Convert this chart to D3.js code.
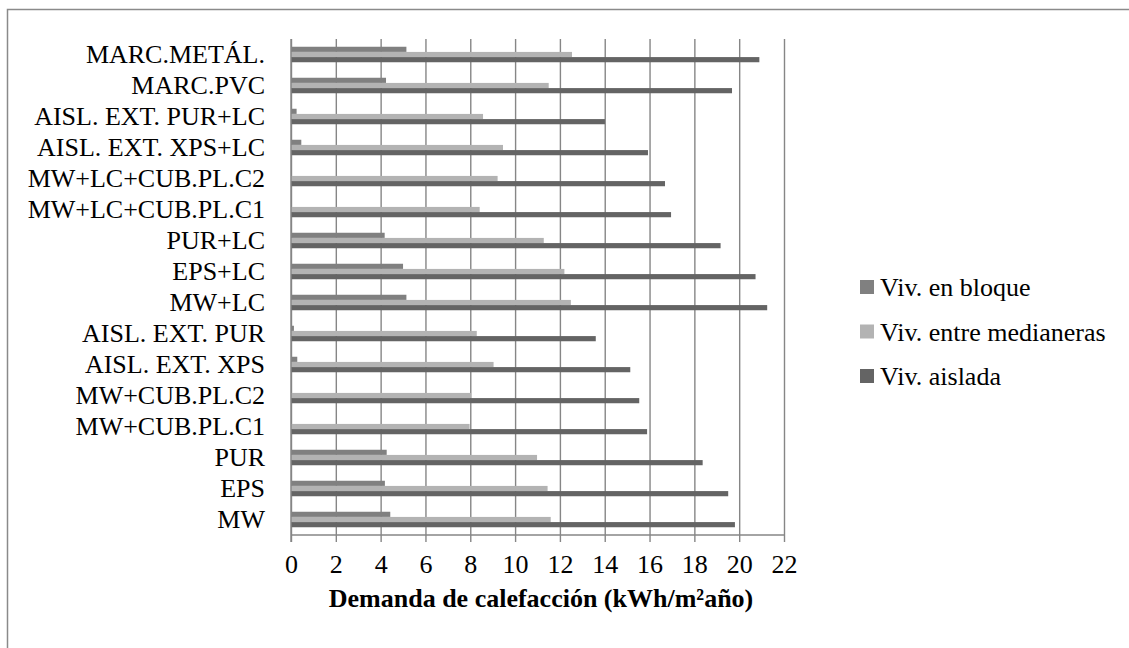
<!DOCTYPE html>
<html>
<head>
<meta charset="utf-8">
<script src="https://cdn.jsdelivr.net/npm/d3@7"></script>
<style>
  html, body { margin: 0; padding: 0; background: #fff; }
  svg { display: block; }
  svg text { font-family: "Liberation Serif", "DejaVu Serif", serif !important; fill: #000; }
</style>
</head>
<body>
<svg id="chart" width="1129" height="648"></svg>
<script>
// Categories listed from the bottom of the chart to the top
const categories = [
  "MW", "EPS", "PUR", "MW+CUB.PL.C1", "MW+CUB.PL.C2",
  "AISL. EXT. XPS", "AISL. EXT. PUR", "MW+LC", "EPS+LC", "PUR+LC",
  "MW+LC+CUB.PL.C1", "MW+LC+CUB.PL.C2", "AISL. EXT. XPS+LC",
  "AISL. EXT. PUR+LC", "MARC.PVC", "MARC.METÁL."
];

const seriesNames = ["Viv. en bloque", "Viv. entre medianeras", "Viv. aislada"];

// Heating demand, kWh/m²·year
const bloque = [4.43, 4.19, 4.27, 0, 0, 0.28, 0.13, 5.15, 5.0, 4.18, 0, 0, 0.46, 0.25, 4.24, 5.15];
const medianeras = [11.59, 11.45, 10.98, 7.97, 8.03, 9.04, 8.29, 12.49, 12.2, 11.28, 8.42, 9.22, 9.46, 8.57, 11.5, 12.54];
const aislada = [19.81, 19.51, 18.37, 15.89, 15.54, 15.14, 13.6, 21.25, 20.73, 19.17, 16.96, 16.69, 15.93, 14.01, 19.68, 20.9];

const xTicks = [0, 2, 4, 6, 8, 10, 12, 14, 16, 18, 20, 22];
const axisTitle = "Demanda de calefacción (kWh/m²año)";

const seriesValues = [bloque, medianeras, aislada];
const colors = ["#808080", "#b3b3b3", "#646464"];
const serif = '"Liberation Serif", "DejaVu Serif", serif';

const svg = d3.select("#chart");

// Outer frame (top and left edges)
svg.append("path")
  .attr("d", "M7.5,648 L7.5,9.5 L1129,9.5")
  .attr("fill", "none")
  .attr("stroke", "#8a8a8a")
  .attr("stroke-width", 1.5);

const plot = { left: 291, right: 784, top: 39, bottom: 535 };

const x = d3.scaleLinear().domain([0, 22]).range([plot.left, plot.right]);

// Top-to-bottom order for the band scale
const yOrder = categories.slice().reverse();
const y = d3.scaleBand().domain(yOrder).range([plot.top, plot.bottom])
  .paddingInner(0.5).paddingOuter(0.25);
const ySub = d3.scaleBand().domain(seriesNames).range([0, y.bandwidth()]);

// Vertical gridlines
const grid = svg.append("g")
  .attr("transform", `translate(0,${plot.top})`)
  .call(d3.axisBottom(x).tickValues(xTicks).tickSize(plot.bottom - plot.top).tickFormat(""));
grid.select(".domain").remove();
grid.selectAll(".tick line").attr("stroke", "#868686").attr("stroke-width", 1.4);

// Bars
const rows = categories.map((c, i) => ({ c, vals: seriesValues.map(s => s[i]) }));
const groups = svg.append("g").selectAll("g")
  .data(rows).join("g")
  .attr("transform", d => `translate(0,${y(d.c)})`);
groups.selectAll("rect")
  .data(d => d.vals.map((v, k) => ({ v, k })))
  .join("rect")
  .attr("x", x(0))
  .attr("y", d => ySub(seriesNames[d.k]))
  .attr("width", d => x(d.v) - x(0))
  .attr("height", ySub.bandwidth())
  .attr("fill", d => colors[d.k]);

// Bottom value axis
const xAxis = svg.append("g")
  .attr("transform", `translate(0,${plot.bottom})`)
  .call(d3.axisBottom(x).tickValues(xTicks).tickSize(7).tickPadding(13).tickFormat(d3.format("d")));
xAxis.attr("font-family", serif).attr("font-size", 26);
xAxis.select(".domain").attr("stroke", "#868686").attr("stroke-width", 1.4)
  .attr("d", `M${plot.left},0H${plot.right}`);
xAxis.selectAll(".tick line").attr("stroke", "#868686").attr("stroke-width", 1.4);
xAxis.selectAll(".tick text").attr("fill", "#000");

// Left category axis
const yAxis = svg.append("g")
  .attr("transform", `translate(${plot.left},0)`)
  .call(d3.axisLeft(y).tickSize(0).tickPadding(26));
yAxis.attr("font-family", serif).attr("font-size", 26);
yAxis.select(".domain").attr("stroke", "#868686").attr("stroke-width", 1.4)
  .attr("d", `M0,${plot.top}V${plot.bottom + 7}`);
yAxis.selectAll(".tick text").attr("fill", "#000");

// Axis title
svg.append("text")
  .attr("x", 541)
  .attr("y", 607)
  .attr("text-anchor", "middle")
  .attr("font-family", serif)
  .attr("font-size", 26)
  .attr("font-weight", "bold")
  .text(axisTitle);

// Legend
const legend = svg.append("g").selectAll("g")
  .data(seriesNames).join("g")
  .attr("transform", (d, i) => `translate(860,${280 + i * 44.5})`);
legend.append("rect")
  .attr("width", 14).attr("height", 14)
  .attr("fill", (d, i) => colors[i]);
legend.append("text")
  .attr("x", 20).attr("y", 16)
  .attr("font-family", serif)
  .attr("font-size", 26)
  .text(d => d);
</script>
</body>
</html>
